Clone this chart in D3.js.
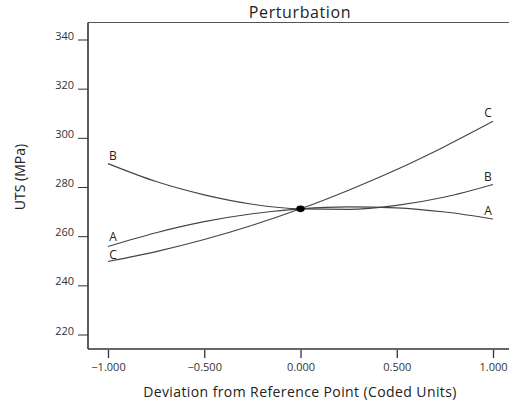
<!DOCTYPE html>
<html>
<head>
<meta charset="utf-8">
<script src="https://cdnjs.cloudflare.com/ajax/libs/d3/7.8.5/d3.min.js"></script>
<style>
  html, body { margin: 0; padding: 0; background: #fff; }
  svg { display: block; font-family: "Open Sans", "Noto Sans", sans-serif; }
</style>
</head>
<body>
<svg id="chart" width="509" height="402"></svg>
<script>
// Coded deviation from the reference point
const deviation = [-1, -0.75, -0.5, -0.25, 0, 0.25, 0.5, 0.75, 1];
// UTS (MPa) response for each factor
const factorA = [255.2, 260.8, 265.3, 268.5, 270.5, 271.3, 270.9, 269.2, 266.4];
const factorB = [288.9, 281.6, 276.2, 272.4, 270.5, 270.3, 271.9, 275.3, 280.4];
const factorC = [249.1, 253.1, 258.0, 263.8, 270.5, 278.1, 286.5, 295.9, 306.1];
const seriesNames = ["A", "B", "C"];
const xTicks = [-1, -0.5, 0, 0.5, 1];
const yTicks = [220, 240, 260, 280, 300, 320, 340];
const refPoint = { x: 0, y: 270.5 };

(function draw() {
  const svg = d3.select("#chart");
  const x = d3.scaleLinear().domain([-1, 1]).range([108, 493]);
  const y = d3.scaleLinear().domain([220, 340]).range([333, 38]);

  const plotLeft = 88, plotTop = 22.5, plotBottom = 349, plotRight = 509;
  const ink = "#333";

  // Title
  svg.append("text").attr("x", 300).attr("y", 18)
    .attr("text-anchor", "middle").attr("font-size", 16).attr("letter-spacing", 0.6)
    .attr("fill", "#222").text("Perturbation");

  // Frame: top border
  svg.append("line").attr("x1", plotLeft).attr("x2", plotRight).attr("y1", plotTop).attr("y2", plotTop)
    .attr("stroke", "#555").attr("stroke-width", 1.2);

  // Y axis
  const yAxis = d3.axisLeft(y).tickValues(yTicks).tickSize(10).tickPadding(4)
    .tickFormat(d3.format("d"));
  const gy = svg.append("g").attr("transform", `translate(${plotLeft},0)`).call(yAxis);
  gy.select(".domain").remove();
  gy.selectAll(".tick line").attr("stroke", ink).attr("stroke-width", 1)
    .attr("transform", "translate(0,1.5)");
  gy.selectAll(".tick text").attr("font-size", 11).attr("fill", "#333")
    .attr("font-family", "\"Open Sans\", sans-serif").attr("dy", "0.1em");
  svg.append("line").attr("x1", plotLeft).attr("x2", plotLeft).attr("y1", plotTop).attr("y2", plotBottom)
    .attr("stroke", ink).attr("stroke-width", 1.6);

  // X axis
  const xAxis = d3.axisBottom(x).tickValues(xTicks).tickSize(8).tickPadding(5)
    .tickFormat(d3.format(".3f"));
  const gx = svg.append("g").attr("transform", `translate(0,${plotBottom + 1})`).call(xAxis);
  gx.select(".domain").remove();
  gx.selectAll(".tick line").attr("stroke", ink).attr("stroke-width", 1.3);
  gx.selectAll(".tick text").attr("font-size", 11).attr("fill", "#333")
    .attr("font-family", "\"Open Sans\", sans-serif");
  svg.append("line").attr("x1", plotLeft).attr("x2", plotRight).attr("y1", plotBottom).attr("y2", plotBottom)
    .attr("stroke", ink).attr("stroke-width", 1.6);

  // Axis titles
  svg.append("text").attr("x", 300).attr("y", 397)
    .attr("text-anchor", "middle").attr("font-size", 14).attr("letter-spacing", 0.4)
    .attr("fill", "#222").text("Deviation from Reference Point (Coded Units)");
  svg.append("text").attr("transform", "translate(25,177) rotate(-90)")
    .attr("text-anchor", "middle").attr("font-size", 14).attr("fill", "#222")
    .text("UTS (MPa)");

  // Perturbation curves with end labels
  const series = [factorA, factorB, factorC];
  const leftLift = [5, 4, 2.5];
  const line = d3.line().x((d, i) => x(deviation[i])).y(d => y(d)).curve(d3.curveMonotoneX);
  series.forEach((vals, k) => {
    svg.append("path").datum(vals).attr("d", line)
      .attr("fill", "none").attr("stroke", "#444").attr("stroke-width", 1.1);
    const first = vals[0], last = vals[vals.length - 1];
    svg.append("text").attr("x", x(deviation[0]) + 5).attr("y", y(first) - leftLift[k])
      .attr("text-anchor", "middle").attr("font-size", 12).attr("fill", "#222")
      .text(seriesNames[k]);
    svg.append("text").attr("x", x(deviation[deviation.length - 1]) - 5).attr("y", y(last) - 4)
      .attr("text-anchor", "middle").attr("font-size", 12).attr("fill", "#222")
      .text(seriesNames[k]);
  });

  // Reference point
  svg.append("ellipse").attr("cx", x(refPoint.x)).attr("cy", y(refPoint.y))
    .attr("rx", 4.2).attr("ry", 3.3).attr("fill", "#000");
})();
</script>
</body>
</html>
